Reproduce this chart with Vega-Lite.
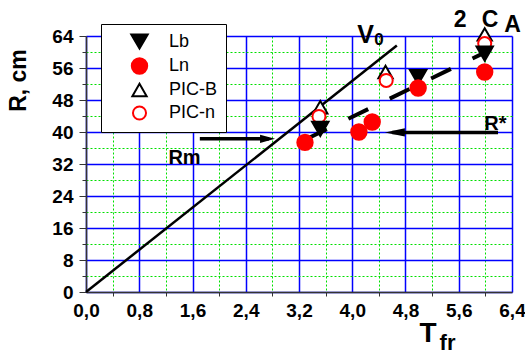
{
  "$schema": "https://vega.github.io/schema/vega-lite/v6.json",
  "width": 426,
  "height": 256,
  "autosize": {"type": "none"},
  "padding": {"left": 86, "top": 36, "right": 13, "bottom": 66},
  "background": "white",
  "config": {
    "view": {"stroke": null},
    "font": "Liberation Sans",
    "legend": {
      "padding": 8,
      "strokeColor": "black",
      "fillColor": "white",
      "strokeWidth": 1,
      "cornerRadius": 0,
      "symbolOffset": 21,
      "labelOffset": 20,
      "labelFont": "Liberation Sans",
      "labelFontSize": 18,
      "labelColor": "black",
      "rowPadding": 1,
      "symbolStrokeWidth": 2
    }
  },
  "datasets": {
    "v0": [{"x": 0, "y": 0}, {"x": 4.67, "y": 61.6}],
    "dash": [{"x": 3.32, "y": 38.3}, {"x": 6.08, "y": 60.6}],
    "arrowlines": [
      {"arrow": "Rm", "x": 1.71, "y": 38.3},
      {"arrow": "Rm", "x": 2.75, "y": 38.3},
      {"arrow": "R*", "x": 4.6, "y": 39.9},
      {"arrow": "R*", "x": 6.19, "y": 39.9}
    ],
    "headR": [{"x": 2.84, "y": 38.3}],
    "headL": [{"x": 4.49, "y": 39.9}],
    "pts": [
      {"series": "PIC-B", "x": 3.52, "y": 46.2},
      {"series": "PIC-B", "x": 4.5, "y": 55.0},
      {"series": "PIC-B", "x": 5.99, "y": 64.4},
      {"series": "PIC-n", "x": 3.5, "y": 43.9},
      {"series": "PIC-n", "x": 4.51, "y": 52.9},
      {"series": "PIC-n", "x": 5.99, "y": 62.1},
      {"series": "Lb", "x": 3.52, "y": 40.8},
      {"series": "Lb", "x": 4.99, "y": 53.7},
      {"series": "Lb", "x": 5.99, "y": 59.6},
      {"series": "Ln", "x": 3.29, "y": 37.4},
      {"series": "Ln", "x": 4.1, "y": 40.0},
      {"series": "Ln", "x": 4.3, "y": 42.5},
      {"series": "Ln", "x": 4.99, "y": 51.0},
      {"series": "Ln", "x": 5.99, "y": 55.0}
    ],
    "tV": [{"x": 4.2, "y": 62.3, "t": "V"}],
    "t0": [{"x": 4.4, "y": 61.8, "t": "0"}],
    "tCA": [
      {"x": 5.62, "y": 66.3, "t": "2"},
      {"x": 6.07, "y": 66.3, "t": "C"},
      {"x": 6.41, "y": 65.1, "t": "A"}
    ],
    "tR": [
      {"x": 1.48, "y": 32.1, "t": "Rm"},
      {"x": 6.15, "y": 40.6, "t": "R*"}
    ]
  },
  "layer": [
    {
      "data": {"name": "v0"},
      "mark": {"type": "line", "color": "black", "strokeWidth": 2.5, "clip": false},
      "encoding": {
        "x": {
          "field": "x", "type": "quantitative",
          "scale": {"domain": [0, 6.4], "nice": false, "zero": false},
          "axis": {
            "orient": "bottom",
            "values": [0.4, 1.2, 2, 2.8, 3.6, 4.4, 5.2, 6],
            "labels": false, "domain": false,
            "ticks": true, "tickSize": 4, "tickColor": "#333", "tickWidth": 1,
            "grid": true, "gridColor": "#00e000", "gridDash": [2, 2], "gridWidth": 1,
            "title": "fr", "titleFont": "Liberation Sans", "titleFontSize": 22, "titleFontWeight": "bold",
            "titleColor": "black",
            "titleX": 361, "titleY": 57.7, "titleAlign": "center", "titleBaseline": "alphabetic", "titleAngle": 0
          }
        },
        "y": {
          "field": "y", "type": "quantitative",
          "scale": {"domain": [0, 64], "nice": false, "zero": false},
          "axis": {
            "orient": "left",
            "values": [4, 12, 20, 28, 36, 44, 52, 60],
            "labels": false, "domain": false,
            "ticks": true, "tickSize": 4, "tickColor": "#333", "tickWidth": 1,
            "grid": true, "gridColor": "#00e000", "gridDash": [2, 2], "gridWidth": 1,
            "title": null
          }
        }
      }
    },
    {
      "data": {"name": "dash"},
      "mark": {"type": "line", "color": "black", "strokeWidth": 4, "strokeDash": [22, 24], "clip": false},
      "encoding": {
        "x": {"field": "x", "type": "quantitative", "axis": null},
        "y": {"field": "y", "type": "quantitative", "axis": null}
      }
    },
    {
      "data": {"name": "arrowlines"},
      "mark": {"type": "line", "color": "black", "strokeWidth": 3.5, "clip": false},
      "encoding": {
        "x": {"field": "x", "type": "quantitative", "axis": null},
        "y": {"field": "y", "type": "quantitative", "axis": null},
        "detail": {"field": "arrow", "type": "nominal"}
      }
    },
    {
      "data": {"name": "headR"},
      "mark": {"type": "point", "shape": "M0,0L-2,-0.55L-2,0.55Z", "filled": true, "color": "black", "opacity": 1, "size": 225, "clip": false},
      "encoding": {
        "x": {"field": "x", "type": "quantitative", "axis": null},
        "y": {"field": "y", "type": "quantitative", "axis": null}
      }
    },
    {
      "data": {"name": "headL"},
      "mark": {"type": "point", "shape": "M0,0L2,-0.42L2,0.42Z", "filled": true, "color": "black", "opacity": 1, "size": 400, "clip": false},
      "encoding": {
        "x": {"field": "x", "type": "quantitative", "axis": null},
        "y": {"field": "y", "type": "quantitative", "axis": null}
      }
    },
    {
      "data": {"name": "pts"},
      "mark": {"type": "point", "opacity": 1, "strokeWidth": 2, "clip": false},
      "encoding": {
        "x": {
          "field": "x", "type": "quantitative",
          "axis": {
            "orient": "bottom",
            "values": [0, 0.8, 1.6, 2.4, 3.2, 4, 4.8, 5.6, 6.4],
            "labelExpr": "replace(format(datum.value, '.1f'), '.', ',')",
            "labelFont": "Liberation Sans", "labelFontSize": 19, "labelFontWeight": "bold", "labelColor": "black",
            "labelPadding": 9, "labelFlush": false, "labelOverlap": false,
            "domain": true, "domainColor": "#333", "domainWidth": 1.5,
            "ticks": true, "tickSize": 0,
            "grid": true, "gridColor": "#0000ff", "gridWidth": 1.5,
            "title": "T", "titleFont": "Liberation Sans", "titleFontSize": 28, "titleFontWeight": "bold",
            "titleColor": "black",
            "titleX": 341.5, "titleY": 49.7, "titleAlign": "center", "titleBaseline": "alphabetic", "titleAngle": 0
          }
        },
        "y": {
          "field": "y", "type": "quantitative",
          "axis": {
            "orient": "left",
            "values": [0, 8, 16, 24, 32, 40, 48, 56, 64],
            "format": "d",
            "labelFont": "Liberation Sans", "labelFontSize": 19, "labelFontWeight": "bold", "labelColor": "black",
            "labelPadding": 6, "labelFlush": false, "labelOverlap": false,
            "domain": true, "domainColor": "#333", "domainWidth": 1.5,
            "ticks": true, "tickSize": 7, "tickColor": "#333", "tickWidth": 1,
            "grid": true, "gridColor": "#0000ff", "gridWidth": 1.5,
            "title": "R, cm", "titleFont": "Liberation Sans", "titleFontSize": 23, "titleFontWeight": "bold",
            "titleColor": "black",
            "titleX": -61, "titleY": 44, "titleAlign": "center", "titleBaseline": "alphabetic", "titleAngle": -90
          }
        },
        "shape": {
          "field": "series", "type": "nominal",
          "scale": {"domain": ["Lb", "Ln", "PIC-B", "PIC-n"], "range": ["triangle-down", "circle", "triangle-up", "circle"]},
          "legend": {"orient": "none", "legendX": 15, "legendY": -12, "title": null}
        },
        "fill": {
          "field": "series", "type": "nominal",
          "scale": {"domain": ["Lb", "Ln", "PIC-B", "PIC-n"], "range": ["black", "#ff0000", "white", "white"]},
          "legend": {"orient": "none", "legendX": 15, "legendY": -12, "title": null}
        },
        "stroke": {
          "field": "series", "type": "nominal",
          "scale": {"domain": ["Lb", "Ln", "PIC-B", "PIC-n"], "range": ["black", "#ff0000", "black", "#ff0000"]},
          "legend": {"orient": "none", "legendX": 15, "legendY": -12, "title": null}
        },
        "size": {
          "field": "series", "type": "nominal",
          "scale": {"domain": ["Lb", "Ln", "PIC-B", "PIC-n"], "range": [270, 170, 240, 150]},
          "legend": {"orient": "none", "legendX": 15, "legendY": -12, "title": null}
        }
      }
    },
    {
      "data": {"name": "tV"},
      "mark": {"type": "text", "font": "Liberation Sans", "fontSize": 25, "fontWeight": "bold", "color": "black", "align": "center", "baseline": "alphabetic", "clip": false},
      "encoding": {
        "x": {"field": "x", "type": "quantitative", "axis": null},
        "y": {"field": "y", "type": "quantitative", "axis": null},
        "text": {"field": "t"}
      }
    },
    {
      "data": {"name": "t0"},
      "mark": {"type": "text", "font": "Liberation Sans", "fontSize": 17, "fontWeight": "bold", "color": "black", "align": "center", "baseline": "alphabetic", "clip": false},
      "encoding": {
        "x": {"field": "x", "type": "quantitative", "axis": null},
        "y": {"field": "y", "type": "quantitative", "axis": null},
        "text": {"field": "t"}
      }
    },
    {
      "data": {"name": "tCA"},
      "mark": {"type": "text", "font": "Liberation Sans", "fontSize": 23, "fontWeight": "bold", "color": "black", "align": "center", "baseline": "alphabetic", "clip": false},
      "encoding": {
        "x": {"field": "x", "type": "quantitative", "axis": null},
        "y": {"field": "y", "type": "quantitative", "axis": null},
        "text": {"field": "t"}
      }
    },
    {
      "data": {"name": "tR"},
      "mark": {"type": "text", "font": "Liberation Sans", "fontSize": 20, "fontWeight": "bold", "color": "black", "align": "center", "baseline": "alphabetic", "clip": false},
      "encoding": {
        "x": {"field": "x", "type": "quantitative", "axis": null},
        "y": {"field": "y", "type": "quantitative", "axis": null},
        "text": {"field": "t"}
      }
    }
  ],
  "resolve": {"axis": {"x": "independent", "y": "independent"}}
}
